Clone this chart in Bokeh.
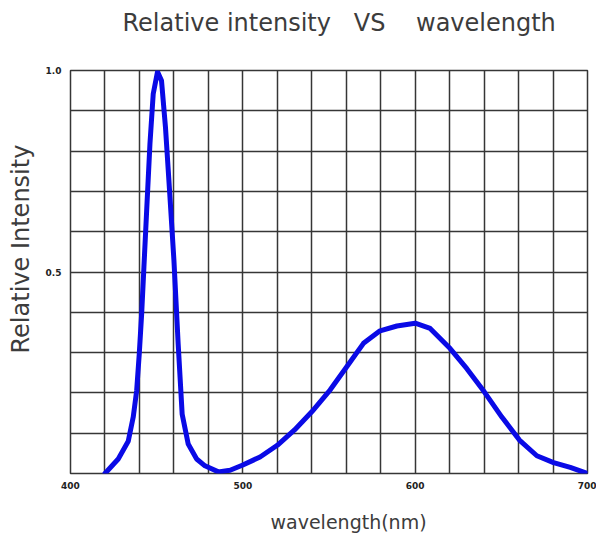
from bokeh.plotting import figure
from bokeh.models import FixedTicker, Range1d, Title
from bokeh.embed import file_html
from bokeh.resources import INLINE

# ---- data ----
wavelength = [420, 427.7, 433.5, 436.4, 438.4, 439.9, 441.3, 442.6, 444.2, 446.1,
              448.0, 450.5, 452.8, 455.1, 457.6, 460.0, 462.5, 464.8, 468.3, 473.2,
              478.0, 485.8, 492.6, 500.0, 510.0, 520.0, 530.0, 540.0, 550.6, 560.3,
              570.0, 579.6, 589.4, 600.0, 608.7, 620.3, 630.0, 640.2, 650.3, 660.5,
              670.6, 680.3, 690.0, 700.0]
intensity = [0.0, 0.036, 0.08, 0.14, 0.206, 0.297, 0.397, 0.512, 0.653, 0.818,
             0.942, 0.997, 0.975, 0.86, 0.694, 0.53, 0.32, 0.147, 0.073, 0.036,
             0.019, 0.004, 0.008, 0.021, 0.041, 0.07, 0.108, 0.153, 0.207, 0.265,
             0.323, 0.354, 0.366, 0.373, 0.36, 0.31, 0.26, 0.202, 0.14, 0.083,
             0.044, 0.027, 0.015, 0.0]

x_tick_values = [400, 500, 600, 700]
y_tick_values = [0.5, 1.0]
y_tick_labels = {0.5: "0.5", 1.0: "1.0"}
x_grid_values = list(range(400, 701, 20))
y_grid_values = [i / 10 for i in range(0, 11)]

NB = "\u00a0"
title_text = "Relative intensity" + NB * 2 + " VS" + NB * 3 + " wavelength"
x_label_text = "wavelength(nm)"
y_label_text = "Relative Intensity"

FONT = "DejaVu Sans"
TEXT_COLOR = "#3c3c3c"
GRID_COLOR = "#363636"

p = figure(width=596, height=536, output_backend="svg", toolbar_location=None,
           x_range=Range1d(400, 700), y_range=Range1d(0, 1))
p.min_border_left = 70
p.min_border_right = 9
p.min_border_top = 70
p.min_border_bottom = 63
p.background_fill_color = "white"
p.border_fill_color = "white"
p.outline_line_color = GRID_COLOR
p.outline_line_width = 1.5

# grid
p.xgrid.ticker = FixedTicker(ticks=x_grid_values)
p.ygrid.ticker = FixedTicker(ticks=y_grid_values)
for g in (p.xgrid, p.ygrid):
    g.grid_line_color = GRID_COLOR
    g.grid_line_width = 1.5
    g.grid_line_alpha = 1.0

# axes
p.xaxis.ticker = FixedTicker(ticks=x_tick_values)
p.yaxis.ticker = FixedTicker(ticks=y_tick_values)
p.yaxis.major_label_overrides = y_tick_labels
for ax in (p.xaxis, p.yaxis):
    ax.axis_line_color = None
    ax.major_tick_line_color = None
    ax.minor_tick_line_color = None
    ax.major_label_text_font = FONT
    ax.major_label_text_font_size = "9px"
    ax.major_label_text_font_style = "bold"
    ax.major_label_text_color = "#222222"
p.xaxis.major_label_standoff = 2
p.yaxis.major_label_standoff = 3

# curve
p.line(wavelength, intensity, line_color="#0a0ae6", line_width=5,
       line_join="round", line_cap="round")

# main title: a trailing empty line lifts the text away from the frame
p.title.text = title_text + "\n"
p.title.align = "left"
p.title.offset = 52
p.title.standoff = 6
p.title.text_line_height = 1.1
p.title.text_font = FONT
p.title.text_font_size = "24px"
p.title.text_font_style = "normal"
p.title.text_color = TEXT_COLOR

# x label: a leading empty line moves it down
p.add_layout(Title(text="\n" + x_label_text, align="left", offset=200, standoff=1,
                   text_line_height=0.75, text_font=FONT, text_font_size="19px",
                   text_font_style="normal", text_color=TEXT_COLOR), "below")

# y label
p.add_layout(Title(text=y_label_text, align="left", vertical_align="top", offset=120,
                   standoff=12, text_font=FONT, text_font_size="24px",
                   text_font_style="normal", text_color=TEXT_COLOR), "left")

open("out.html", "w").write(file_html(p, INLINE))
